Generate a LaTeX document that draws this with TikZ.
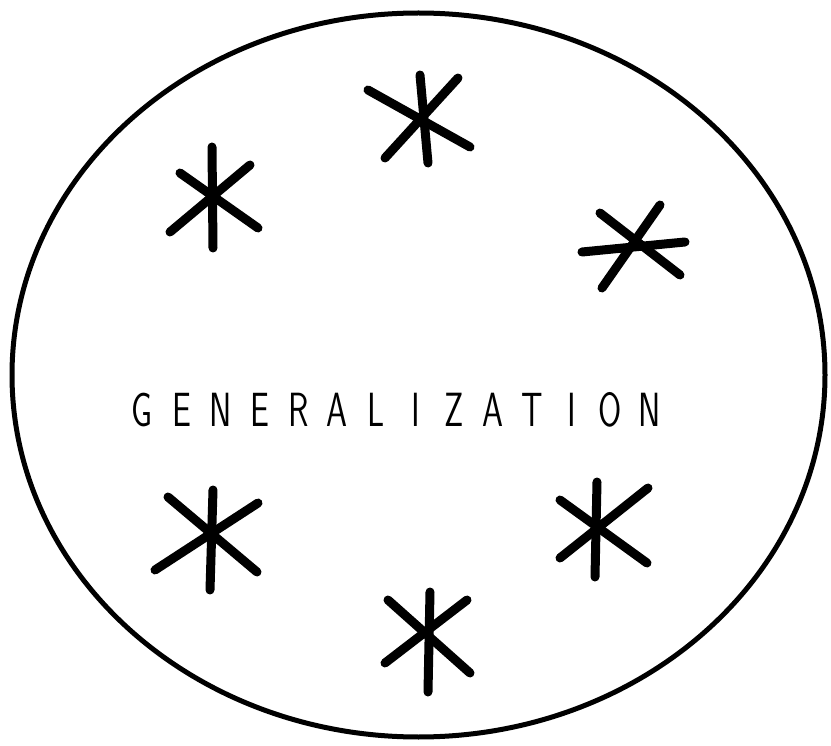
\documentclass[tikz,border=0pt]{standalone}
\usepackage{fontspec}
\newcommand{\lt}[1]{\makebox[39pt]{\scalebox{0.7}[1]{#1}}}
\begin{document}
\begin{tikzpicture}[x=1pt,y=-1pt,
  rim/.style={line width=5pt},
  star/.style={line width=9pt,line cap=round},
  label/.style={font=\sffamily\fontsize{48}{48}\selectfont,inner sep=0pt,anchor=base}]
\useasboundingbox (0,0) rectangle (831,746);
\draw[rim] (418.5,375) ellipse [x radius=406.5pt, y radius=362pt];
\node[label] (t) at (396,426) {\lt{G}\lt{E}\lt{N}\lt{E}\lt{R}\lt{A}\lt{L}\lt{I}\lt{Z}\lt{A}\lt{T}\lt{I}\lt{O}\lt{N}};
% asterisk 1
\draw[star] (212,147) -- (213,248);
\draw[star] (180,173) -- (258,228);
\draw[star] (170,232) -- (250,165);
% asterisk 2
\draw[star] (420,75) -- (428,163);
\draw[star] (368,90) -- (470,147);
\draw[star] (385,158) -- (458,78);
% asterisk 3
\draw[star] (582,252) -- (685,242);
\draw[star] (600,213) -- (680,275);
\draw[star] (602,288) -- (660,205);
% asterisk 4
\draw[star] (213,490) -- (210,590);
\draw[star] (168,497) -- (257,572);
\draw[star] (155,570) -- (258,503);
% asterisk 5
\draw[star] (597,482) -- (595,577);
\draw[star] (560,500) -- (647,563);
\draw[star] (560,558) -- (648,488);
% asterisk 6
\draw[star] (430,592) -- (428,692);
\draw[star] (388,600) -- (470,673);
\draw[star] (385,663) -- (467,600);
\end{tikzpicture}
\end{document}
